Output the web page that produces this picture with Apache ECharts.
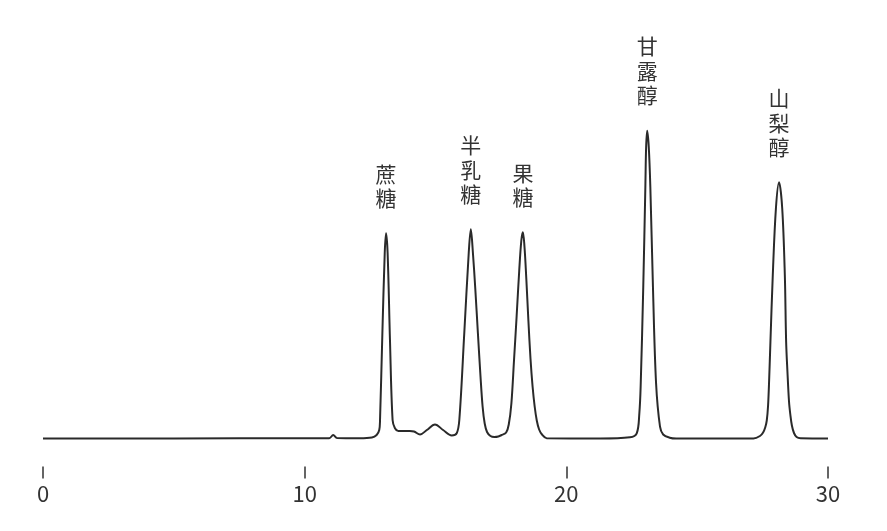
<!DOCTYPE html>
<html>
<head>
<meta charset="utf-8">
<script src="https://cdn.jsdelivr.net/npm/echarts@6/dist/echarts.min.js"></script>
<style>
html,body{margin:0;padding:0;background:#fff;}
#main{width:887px;height:531px;}
</style>
</head>
<body>
<div id="main"></div>
<script>
// Retention time (min)
var times = [0, 5, 10, 10.94, 11.09, 11.24, 12.11, 12.57, 12.75, 12.85, 12.88, 12.97, 13.06, 13.11, 13.17, 13.26, 13.36, 13.45, 13.58, 14.02, 14.18, 14.41, 14.67, 14.98, 15.29, 15.62, 15.81, 15.91, 16.10, 16.27, 16.35, 16.43, 16.52, 16.62, 16.72, 16.80, 16.88, 16.97, 17.10, 17.25, 17.40, 17.53, 17.70, 17.80, 17.90, 18.00, 18.10, 18.20, 18.28, 18.34, 18.40, 18.47, 18.55, 18.63, 18.71, 18.79, 18.87, 18.96, 19.07, 19.25, 21.3, 22.43, 22.69, 22.79, 22.84, 22.94, 23.02, 23.05, 23.09, 23.15, 23.21, 23.31, 23.43, 23.58, 23.70, 23.95, 24.2, 26.5, 27.15, 27.40, 27.52, 27.60, 27.66, 27.71, 27.75, 27.80, 27.89, 28.01, 28.13, 28.25, 28.35, 28.40, 28.45, 28.51, 28.56, 28.62, 28.70, 28.80, 28.95, 30];
// Detector signal
var signal = [0, 0.1, 0.3, 0.3, 3.5, 0.4, 0.3, 1, 3.5, 8.5, 18.5, 105.5, 185.5, 205.2, 185.5, 98.5, 18.5, 10.2, 7.5, 7.5, 7, 4, 8.5, 14, 8.5, 3, 5.2, 18.5, 105.5, 185.5, 209.2, 185.5, 150, 105.5, 62, 32, 15, 6.5, 2.5, 1.5, 2, 3.5, 6, 14, 35, 78, 122, 168, 198, 206.2, 192, 160, 118, 80, 52, 32, 18, 9, 4, 0.2, 0, 1.2, 5.2, 25.2, 52, 151.8, 251.8, 291.8, 307.8, 291.8, 251.8, 151.8, 55, 11.8, 4, 0.8, 0, 0, 0, 2.5, 6, 11, 18, 33, 58, 96.8, 163.5, 230.2, 256.2, 230.2, 163.5, 96.8, 66.8, 37, 24, 13, 5.5, 1.5, 0.2, 0];
// Peak annotations
var peakNames = ['蔗糖', '半乳糖', '果糖', '甘露醇', '山梨醇'];
var peakTimes = [13.11, 16.35, 18.34, 23.09, 28.13];
var peakHeights = [205.2, 209.2, 206.2, 307.8, 256.2];
var xTicks = [0, 10, 20, 30];

var lineData = times.map(function (t, i) { return [t, signal[i]]; });
var marks = peakNames.map(function (n, i) {
  return { coord: [peakTimes[i], peakHeights[i]], value: n.split('').join('\n') };
});

var chart = echarts.init(document.getElementById('main'), null, { renderer: 'canvas' });
chart.setOption({
  animation: false,
  backgroundColor: '#ffffff',
  textStyle: { fontFamily: '"Noto Sans CJK SC", "Noto Sans", sans-serif' },
  grid: { left: 43, right: 59, top: 38.5, bottom: 64.5 },
  xAxis: {
    type: 'value', min: xTicks[0], max: xTicks[xTicks.length - 1], interval: 10,
    axisLine: { show: false, onZero: false },
    axisTick: { show: true, length: 12, lineStyle: { color: '#333', width: 1.5 } },
    axisLabel: { fontSize: 22, color: '#333', margin: 16,
      fontFamily: '"Noto Sans CJK SC", sans-serif' },
    splitLine: { show: false }
  },
  yAxis: { type: 'value', min: -28, max: 400, show: false, splitLine: { show: false } },
  series: [{
    type: 'line',
    data: lineData,
    smooth: 0.35,
    showSymbol: false,
    symbol: 'none',
    lineStyle: { color: '#2a2a2a', width: 2 },
    markPoint: {
      symbol: 'circle', symbolSize: 0,
      label: {
        show: true, position: 'top', distance: 23,
        formatter: function (p) { return p.value; },
        fontSize: 21, lineHeight: 24.5, color: '#333', align: 'center',
        fontFamily: '"Noto Sans CJK SC", sans-serif'
      },
      data: marks
    }
  }]
});
</script>
</body>
</html>
